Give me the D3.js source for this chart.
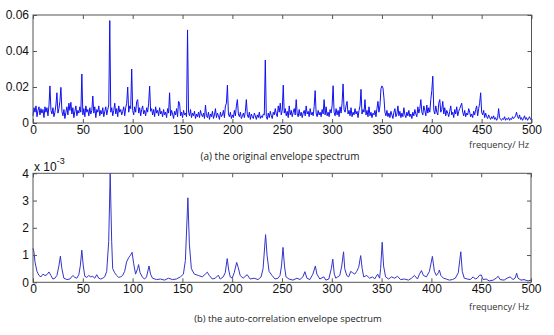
<!DOCTYPE html>
<html><head><meta charset="utf-8">
<script src="https://cdn.jsdelivr.net/npm/d3@7"></script>
<style>body{margin:0;background:#fff}svg{display:block}</style>
</head><body><svg id="c" width="554" height="335"></svg>
<script>
// (a) original envelope spectrum, amplitude in units of 1e-4, one value per Hz from 0 to 500 Hz
const envAmp = [
 40,85,60,95,35,70,90,45,80,55,
 75,30,90,60,85,40,95,206,70,50,
 85,35,60,100,168,55,80,120,198,65,
 40,75,25,60,90,45,110,70,115,50,
 85,30,65,95,40,70,55,90,60,272,
 45,80,35,95,60,75,40,85,50,70,
 150,55,90,30,75,60,95,40,70,50,
 85,35,65,90,45,75,100,569,60,85,
 40,70,110,50,80,35,95,60,75,45,
 65,90,40,85,110,200,60,95,80,300,
 70,45,90,60,120,130,55,85,40,75,
 95,50,70,40,85,60,110,205,65,80,
 45,75,35,90,55,70,40,85,50,65,
 35,75,45,60,30,80,55,168,40,70,
 50,25,65,45,80,35,120,110,40,60,
 30,70,45,55,35,517,60,40,75,30,
 55,40,65,25,50,35,60,30,70,45,
 35,55,25,100,40,30,60,20,50,35,
 65,25,45,80,30,55,40,20,60,35,
 45,70,30,95,110,210,50,35,60,25,
 45,30,70,40,95,130,50,35,60,25,
 40,55,30,65,130,45,30,60,20,50,
 35,25,55,40,20,45,30,60,25,40,
 30,50,45,350,35,20,55,30,65,40,
 25,60,45,80,50,35,95,60,110,45,
 70,210,55,80,40,65,30,95,45,70,
 35,60,80,45,130,50,35,75,40,60,
 30,55,70,40,95,50,65,35,80,45,
 60,40,90,180,55,35,70,45,60,35,
 75,50,130,45,90,40,60,35,75,55,
 95,207,60,40,80,45,70,35,90,55,
 110,217,75,60,95,120,50,70,40,85,
 35,60,45,80,50,65,30,70,95,187,
 50,75,60,130,45,70,35,90,40,60,
 30,55,45,70,35,80,120,60,95,190,
 206,195,140,60,40,70,35,55,30,65,
 45,25,60,80,35,50,95,40,65,30,
 55,35,85,45,30,60,40,70,35,50,
 25,60,40,75,50,35,90,55,80,130,
 60,45,95,70,40,100,55,85,60,130,
 180,260,70,50,95,60,45,110,130,60,
 75,120,50,85,40,70,55,35,65,95,
 45,60,30,75,50,90,40,65,80,95,
 110,60,40,70,35,55,45,80,60,35,
 50,30,65,45,75,95,40,80,110,168,
 60,45,70,30,55,35,25,45,30,20,
 35,25,40,20,30,15,25,80,30,20,
 15,25,20,35,15,25,20,30,15,25,
 20,35,25,30,40,60,35,25,45,20,
 30,15,25,40,20,30,15,25,35,20,
 25
];
const envUnit = 1e-4;

// (b) auto-correlation envelope spectrum: frequency (Hz) and amplitude (x 10^-3)
const acFreq = [0,1,2,4,6,8,10,12,14,16,18,20,22,24,26,27.5,29,31,34,37,40,42,44,46,47.5,49,50.5,52,54,56,58,60,62,64,66,68,70,72,74,76,77.5,79,80,82,84,86,88,90,92,94,96,98,99.5,101,103,105,106,107.5,110,112,114,116.5,118,120,124,128,132,136,140,144,148,151,153,155.5,157,159,162,166,170,173,175,177,180,183,186,188,191,193,195,196.5,198,200,202,204.5,206,208,211,215,218,222,226,229,231,233.5,235,237,240,243,246,248,249.5,251,252.5,254,257,261,265,268,271,273,275,278,281,283.5,285,288,292,294,297,299.5,301,302.5,304,306,308,310,311.8,313,315,317,319,321,323,325,327,329,330.5,332,335,338,341,343,346,348,349,350.6,352,354,357,360,363,366,369,373,377,380,383,386,388,390,392,395,398,401,403,405,407,408,409.5,412,415,418,421,424,427,429.5,431,433,436,439,442,444,446,448,450,452,455,458,462,465,467,469,473,476,479,482,484,485.6,487,490,493,497,500];
const acAmp = [1.25,1.1,0.75,0.4,0.25,0.2,0.3,0.25,0.28,0.38,0.25,0.12,0.15,0.25,0.6,0.96,0.5,0.15,0.1,0.12,0.25,0.18,0.15,0.28,0.6,1.18,0.6,0.22,0.18,0.25,0.2,0.22,0.15,0.28,0.15,0.12,0.15,0.2,0.4,1.5,4.0,1.5,0.5,0.35,0.25,0.18,0.2,0.25,0.4,0.75,0.9,1.0,1.1,0.7,0.3,0.5,0.65,0.35,0.18,0.12,0.2,0.6,0.3,0.15,0.1,0.12,0.08,0.15,0.1,0.12,0.2,0.3,0.8,3.1,1.4,0.5,0.3,0.25,0.2,0.3,0.37,0.25,0.12,0.15,0.26,0.12,0.2,0.35,0.87,0.45,0.2,0.15,0.35,0.73,0.55,0.25,0.15,0.28,0.12,0.15,0.1,0.2,0.5,1.75,1.0,0.4,0.25,0.12,0.15,0.25,0.6,1.28,0.6,0.2,0.12,0.08,0.15,0.1,0.2,0.39,0.15,0.1,0.3,0.6,0.3,0.12,0.2,0.08,0.12,0.5,0.85,0.3,0.15,0.2,0.25,0.6,1.12,0.5,0.25,0.2,0.4,0.35,0.3,0.4,0.55,0.98,0.5,0.2,0.25,0.15,0.2,0.12,0.3,0.15,0.5,1.47,0.6,0.2,0.12,0.2,0.15,0.22,0.1,0.12,0.08,0.15,0.25,0.12,0.3,0.43,0.25,0.2,0.4,0.95,0.4,0.25,0.35,0.45,0.25,0.15,0.12,0.08,0.1,0.15,0.35,1.12,0.4,0.15,0.12,0.1,0.2,0.12,0.15,0.25,0.27,0.1,0.12,0.05,0.08,0.15,0.22,0.1,0.08,0.15,0.2,0.1,0.15,0.33,0.15,0.08,0.1,0.05,0.08];

const freqTicks = [0,50,100,150,200,250,300,350,400,450,500];
const envTicks = [0,0.02,0.04,0.06];
const envTickLabels = ["0","0.02","0.04","0.06"];
const acTicks = [0,1,2,3,4];
const captions = ["(a) the original envelope spectrum", "(b) the auto-correlation envelope spectrum"];
const xTitle = "frequency/ Hz";

const svg = d3.select("#c");
const font = "'Liberation Sans', Arial, sans-serif";
const capFont = "'Open Sans', 'Liberation Sans', sans-serif";

function panel(o) {
  const x = d3.scaleLinear().domain([0, 500]).range([o.left, o.right]);
  const y = d3.scaleLinear().domain(o.yDomain).range([o.bottom, o.top]);
  const g = svg.append("g");

  // data line
  g.append("path")
    .datum(o.data)
    .attr("fill", "none")
    .attr("stroke", o.color)
    .attr("stroke-width", o.width)
    .attr("stroke-linejoin", "round")
    .attr("d", d3.line().x(d => x(d[0])).y(d => y(d[1])));

  const styleAxis = sel => {
    sel.select(".domain").remove();
    sel.selectAll(".tick line").attr("stroke", "#555");
    sel.selectAll(".tick text").attr("fill", "#111")
      .style("font-family", font).style("font-size", "12px");
  };

  g.append("g").attr("transform", `translate(0,${o.bottom})`)
    .call(d3.axisBottom(x).tickValues(freqTicks).tickSize(-4).tickPadding(2.5))
    .call(styleAxis);
  g.append("g").attr("transform", `translate(0,${o.top})`)
    .call(d3.axisTop(x).tickValues(freqTicks).tickSize(-4).tickFormat(""))
    .call(styleAxis);
  g.append("g").attr("transform", `translate(${o.left},0)`)
    .call(d3.axisLeft(y).tickValues(o.yTicks).tickSize(-4).tickPadding(4)
      .tickFormat((d, i) => o.yLabels[i]))
    .call(styleAxis);
  g.append("g").attr("transform", `translate(${o.right},0)`)
    .call(d3.axisRight(y).tickValues(o.yTicks).tickSize(-4).tickFormat(""))
    .call(styleAxis);

  // frame
  g.append("rect")
    .attr("x", o.left).attr("y", o.top)
    .attr("width", o.right - o.left).attr("height", o.bottom - o.top)
    .attr("fill", "none").attr("stroke", "#555").attr("stroke-width", 1);

  g.append("text").attr("x", 529).attr("y", o.bottom + o.titleDy)
    .attr("text-anchor", "end").attr("fill", "#333")
    .style("font-family", capFont).style("font-size", "9.2px")
    .text(xTitle);
  g.append("text").attr("x", o.capX).attr("y", o.bottom + o.capDy)
    .attr("text-anchor", "middle").attr("fill", "#222")
    .style("font-family", capFont).style("font-size", o.capSize)
    .text(o.caption);
  return { x, y, g };
}

panel({
  left: 33, right: 531.5, top: 15, bottom: 123,
  yDomain: [0, 0.06], yTicks: envTicks, yLabels: envTickLabels,
  data: envAmp.map((v, i) => [i, v * envUnit]),
  color: "#1010f0", width: 1,
  caption: captions[0], capX: 280, capSize: "10px", titleDy: 24.5, capDy: 37
});

panel({
  left: 33, right: 531, top: 173.3, bottom: 282.3,
  yDomain: [0, 4], yTicks: acTicks, yLabels: acTicks.map(String),
  data: acFreq.map((f, i) => [f, acAmp[i]]),
  color: "#3434c8", width: 1,
  caption: captions[1], capX: 288, capSize: "9.4px", titleDy: 27.5, capDy: 40
});

// exponent note for the lower panel
const ex = svg.append("text").attr("x", 34).attr("y", 170.5).attr("fill", "#111")
  .style("font-family", font).style("font-size", "12px");
ex.append("tspan").text("x 10");
ex.append("tspan").attr("dy", -7).style("font-size", "9px").text("-3");
</script></body></html>
